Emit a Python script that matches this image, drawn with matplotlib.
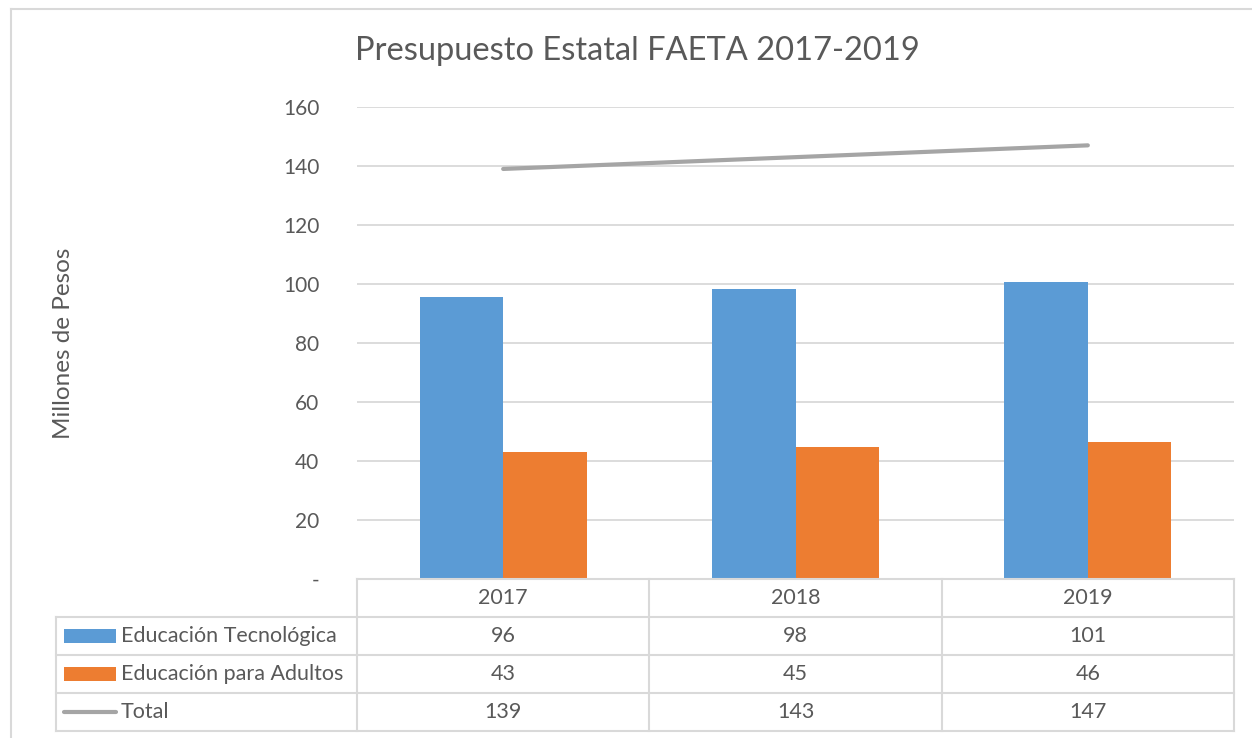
import matplotlib

matplotlib.use("Agg")
import matplotlib.pyplot as plt
from matplotlib.lines import Line2D
from matplotlib.patches import Rectangle

years = ["2017", "2018", "2019"]
tecnologica = [95.6, 98.3, 100.8]
adultos = [43.2, 44.8, 46.3]
total = [139, 143, 147]
series_names = ["Educación Tecnológica", "Educación para Adultos", "Total"]
y_ticks = [0, 20, 40, 60, 80, 100, 120, 140, 160]

BLUE = "#5B9BD5"
ORANGE = "#ED7D31"
GRAY = "#A5A5A5"
TEXT = "#595959"
GRID = "#D9D9D9"

plt.rcParams["font.family"] = ["Lato", "DejaVu Sans"]

W, H = 1252, 738
figure = plt.figure(figsize=(W / 100, H / 100), dpi=100)

# plot area in pixels: x 357..1234, y 107..579
left, right, top, bottom = 357, 1234, 107, 579
axis = figure.add_axes(
    [left / W, 1 - bottom / H, (right - left) / W, (bottom - top) / H]
)

positions = list(range(len(years)))
bar_width = 1 / 3.5
axis.bar(
    [p - bar_width / 2 for p in positions],
    tecnologica,
    width=bar_width,
    color=BLUE,
    zorder=2,
)
axis.bar(
    [p + bar_width / 2 for p in positions],
    adultos,
    width=bar_width,
    color=ORANGE,
    zorder=2,
)
axis.plot(
    positions,
    total,
    color=GRAY,
    linewidth=3.0,
    solid_capstyle="round",
    zorder=3,
)

axis.set_xlim(-0.5, len(years) - 0.5)
axis.set_ylim(0, 160)
axis.set_yticks(y_ticks)
axis.set_yticklabels(["-" if t == 0 else str(t) for t in y_ticks])
axis.tick_params(axis="y", length=0, pad=27, labelsize=15, labelcolor=TEXT)
axis.set_xticks([])
axis.grid(axis="y", color=GRID, linewidth=1.3, zorder=0)
for spine in axis.spines.values():
    spine.set_visible(False)

axis.set_ylabel("Millones de Pesos", fontsize=17.5, color=TEXT, labelpad=0)
axis.yaxis.set_label_coords(-(left - 74) / (right - left), 0.5)

figure.text(
    637 / W, 1 - 51 / H,
    "Presupuesto Estatal FAETA 2017-2019",
    ha="center", va="center", fontsize=23.5, color=TEXT,
)

# data table below the plot, in data x / axes y coordinates
transform = axis.get_xaxis_transform()
plot_h = bottom - top
row_h = 38.0 / plot_h
col_px = (right - left) / len(years)
table_left = -0.5 - (left - 56) / col_px
x_min, x_max = -0.5, len(years) - 0.5
rows = [tecnologica, adultos, total]
n_rows = len(rows) + 1
edges = [-row_h * i for i in range(n_rows + 1)]

line_style = dict(color=GRID, linewidth=1.5, transform=transform, clip_on=False)
axis.add_line(Line2D([x_min, x_max], [edges[0], edges[0]], **line_style))
for y in edges[1:]:
    axis.add_line(Line2D([table_left, x_max], [y, y], **line_style))
for i in range(len(years) + 1):
    x = x_min + i
    axis.add_line(Line2D([x, x], [edges[0], edges[-1]], **line_style))
axis.add_line(Line2D([table_left, table_left], [edges[1], edges[-1]], **line_style))

text_style = dict(ha="center", va="center", fontsize=15.5, color=TEXT,
                  transform=transform, clip_on=False)
for p, year in zip(positions, years):
    axis.text(p, (edges[0] + edges[1]) / 2, year, **text_style)

key_w = (116 - 64) / col_px
key_x = table_left + (64 - 56) / col_px
label_x = table_left + (121 - 56) / col_px
key_colors = [BLUE, ORANGE, GRAY]
for r, (values, name, color) in enumerate(zip(rows, series_names, key_colors)):
    y_mid = (edges[r + 1] + edges[r + 2]) / 2
    for p, value in zip(positions, values):
        axis.text(p, y_mid, f"{value:.0f}", **text_style)
    if name == "Total":
        axis.add_line(Line2D([key_x, key_x + key_w], [y_mid, y_mid], color=color,
                             linewidth=3.0, solid_capstyle="round",
                             transform=transform, clip_on=False))
    else:
        key_h = 14.0 / plot_h
        axis.add_patch(Rectangle((key_x, y_mid - key_h / 2), key_w, key_h,
                                 facecolor=color, edgecolor="none",
                                 transform=transform, clip_on=False))
    axis.text(label_x, y_mid, name, ha="left", va="center", fontsize=15.5,
              color=TEXT, transform=transform, clip_on=False)

# chart border (left and top edges visible)
border = dict(color=GRID, linewidth=1.5, transform=figure.transFigure)
figure.add_artist(Line2D([11 / W, 11 / W], [1 - 9 / H, 0], **border))
figure.add_artist(Line2D([11 / W, 1], [1 - 9 / H, 1 - 9 / H], **border))

figure.savefig("out.png", dpi=100)
